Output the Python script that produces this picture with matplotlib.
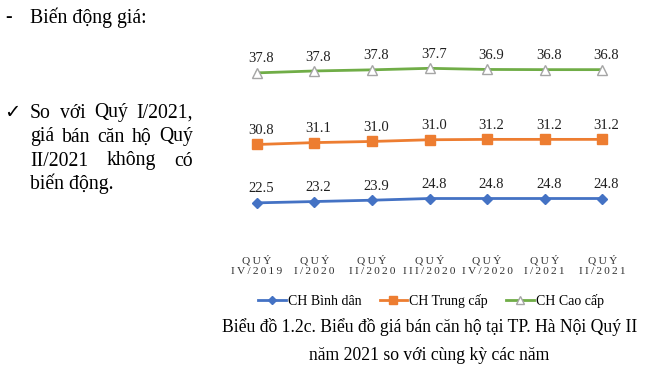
import numpy as np
import matplotlib
matplotlib.use('Agg')
import matplotlib.pyplot as plt

# Data (stacked line chart: each line is drawn on top of the previous one)
quarters = ['QUÝ\nIV/2019', 'QUÝ\nI/2020', 'QUÝ\nII/2020', 'QUÝ\nIII/2020',
            'QUÝ\nIV/2020', 'QUÝ\nI/2021', 'QUÝ\nII/2021']
binh_dan = [22.5, 23.2, 23.9, 24.8, 24.8, 24.8, 24.8]
trung_cap = [30.8, 31.1, 31.0, 31.0, 31.2, 31.2, 31.2]
cao_cap = [37.8, 37.8, 37.8, 37.7, 36.9, 36.8, 36.8]
series_names = ['CH Bình dân', 'CH Trung cấp', 'CH Cao cấp']

SERIF = ['Liberation Serif', 'DejaVu Serif', 'DejaVu Sans']
plt.rcParams['font.family'] = SERIF


def spaced(s):
    # mimic the wide letter spacing of the axis labels
    return '\n'.join('\u2009'.join(line) for line in s.split('\n'))


def justify(fig, words, x0, x1, y, size):
    # place words so that the line fills x0..x1 (pixel coords, top-left origin)
    W, H = fig.bbox.width, fig.bbox.height
    r = fig.canvas.get_renderer()
    texts = [fig.text(0, 1 - y / H, w, fontsize=size, va='center', ha='left') for w in words]
    widths = [t.get_window_extent(renderer=r).width for t in texts]
    gap = (x1 - x0 - sum(widths)) / max(len(words) - 1, 1)
    x = x0
    for t, w in zip(texts, widths):
        t.set_x(x / W)
        x += w + gap


def main():
    fig = plt.figure(figsize=(6.5, 3.8), dpi=100)
    W, H = 650, 380
    ax = fig.add_axes([228 / W, 1 - 245.5 / H, 403 / W, 189.5 / H])

    x = np.arange(len(quarters))
    stacks = np.cumsum([binh_dan, trung_cap, cao_cap], axis=0)
    raw = [binh_dan, trung_cap, cao_cap]
    colors = ['#4472C4', '#ED7D31', '#70AD47']
    styles = [dict(marker='D', ms=5.5, mfc='#4472C4', mec='#4472C4'),
              dict(marker='s', ms=7.5, mfc='#ED7D31', mec='#ED7D31'),
              dict(marker='^', ms=7, mfc='white', mec='#A5A5A5', mew=1.0)]

    handles = []
    for ys, vals, c, st, name in zip(stacks, raw, colors, styles, series_names):
        h, = ax.plot(x, ys, color=c, lw=2.0, label=name, **st)
        handles.append(h)
        for xi, yi, v in zip(x, ys, vals):
            ax.annotate(f'{v:.1f}', (xi, yi), xytext=(3, 10), textcoords='offset points',
                        ha='center', va='center', fontsize=10.5, color='#202020')

    ax.set_xlim(-0.5, len(quarters) - 0.5)
    ax.set_ylim(0, 100)
    ax.set_yticks([])
    ax.set_xticks(x)
    ax.set_xticklabels([spaced(q) for q in quarters], fontsize=8.2, color='#303030',
                       linespacing=1.2)
    ax.tick_params(axis='x', length=0, pad=7)
    for s in ax.spines.values():
        s.set_visible(False)

    fig.legend(handles=handles, loc='center', bbox_to_anchor=(431 / W, 1 - 301 / H),
               ncol=3, frameon=False, fontsize=10, handlelength=2.0,
               columnspacing=1.3, handletextpad=0.15, markerscale=0.8)

    # caption
    fig.text(430 / W, 1 - 327 / H, 'Biểu đồ 1.2c. Biểu đồ giá bán căn hộ tại TP. Hà Nội Quý II',
             ha='center', va='center', fontsize=12.7)
    fig.text(429 / W, 1 - 355 / H, 'năm 2021 so với cùng kỳ các năm',
             ha='center', va='center', fontsize=12.7)

    # left side text
    fs = 14.2
    fig.text(5 / W, 1 - 18 / H, '-', fontsize=fs, va='center')
    fig.text(30 / W, 1 - 18 / H, 'Biến động giá:', fontsize=fs, va='center')
    fig.text(4 / W, 1 - 113 / H, '✓', fontsize=14, va='center',
             family=['DejaVu Sans'])
    fig.canvas.draw()
    justify(fig, ['So', 'với', 'Quý', 'I/2021,'], 30, 193, 113, fs)
    justify(fig, ['giá', 'bán', 'căn', 'hộ', 'Quý'], 30, 193, 137, fs)
    justify(fig, ['II/2021', 'không', 'có'], 30, 193, 161, fs)
    fig.text(30 / W, 1 - 184 / H, 'biến động.', fontsize=fs, va='center')

    fig.savefig('out.png', dpi=100)


if __name__ == '__main__':
    main()
